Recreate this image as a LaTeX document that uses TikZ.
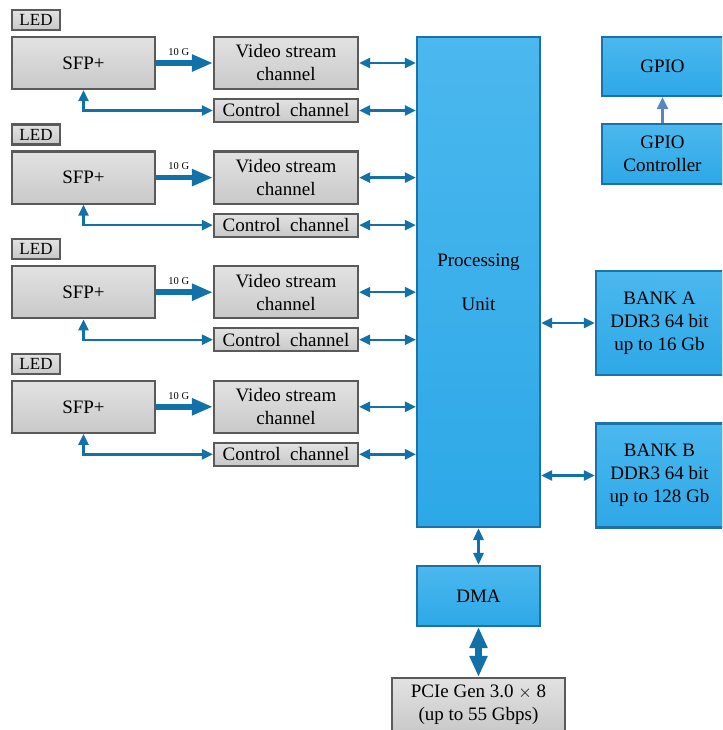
\documentclass[tikz,border=0pt]{standalone}
\usepackage{fontspec}
\setmainfont{Liberation Serif}
\usetikzlibrary{arrows.meta}
\definecolor{graytop}{HTML}{E2E2E2}
\definecolor{graybot}{HTML}{C9C9C9}
\definecolor{grayedge}{HTML}{5A5A5A}
\definecolor{bluetop}{HTML}{4BB8EE}
\definecolor{bluebot}{HTML}{2DA8E7}
\definecolor{blueedge}{HTML}{1A72A8}
\definecolor{wire}{HTML}{1271A8}
\definecolor{gpiowire}{HTML}{5A86BF}

\begin{document}
\begin{tikzpicture}[x=1pt,y=-1pt,
  greybox/.style={draw=grayedge,line width=2.2pt,top color=graytop,bottom color=graybot,
    inner sep=0pt,align=center,font=\fontsize{19}{23}\selectfont},
  bluebox/.style={draw=blueedge,line width=2.2pt,top color=bluetop,bottom color=bluebot,
    inner sep=0pt,align=center,font=\fontsize{19}{23}\selectfont},
  link/.style={wire,line width=2.4pt,{Triangle[length=11pt,width=10pt]}-{Triangle[length=11pt,width=10pt]}},
  bus/.style={wire,line width=5.5pt,-{Triangle[length=21pt,width=16pt]}}]
  \useasboundingbox (0,0) rectangle (722,730);
  \clip (0,0) rectangle (722,730);

  % core
  \node[bluebox,minimum width=123,minimum height=490] (pu) at (478.5,282) {Processing\\[21pt]Unit};
  \node[bluebox,minimum width=123,minimum height=60] (dma) at (478.5,596) {DMA};
  \node[greybox,minimum width=173,minimum height=54] (pcie) at (478.5,705)
    {PCIe Gen 3.0 $\times$ 8\\(up to 55 Gbps)};

  % right side
  \node[bluebox,minimum width=121,minimum height=59] (gpio) at (662.5,66.5) {GPIO};
  \node[bluebox,minimum width=121,minimum height=60] (gpioctl) at (662.5,154) {GPIO\\Controller};
  \node[bluebox,minimum width=127,minimum height=104] (banka) at (659.5,323)
    {BANK A\\DDR3 64 bit\\up to 16 Gb};
  \node[bluebox,minimum width=127,minimum height=104] (bankb) at (659.5,475.5)
    {BANK B\\DDR3 64 bit\\up to 128 Gb};

  % four channels
  \foreach \i in {0,...,3} {
    \pgfmathsetmacro{\o}{114.6*\i}
    \node[greybox,minimum width=48,minimum height=20,font=\fontsize{17}{20}\selectfont] (led\i) at (36,20+\o) {LED};
    \node[greybox,minimum width=143,minimum height=52] (sfp\i) at (83.5,63+\o) {SFP+};
    \node[greybox,minimum width=144,minimum height=52] (video\i) at (286,63+\o) {Video stream\\channel};
    \node[greybox,minimum width=144,minimum height=23] (ctrl\i) at (286,110.5+\o) {Control\ \ channel};
    \draw[bus] (sfp\i) -- node[pos=0.4,above=1.5pt,black,font=\fontsize{10.5}{12}\selectfont] {10 G} (video\i);
    \draw[link] (sfp\i.south) |- (ctrl\i.west);
    \draw[link] (video\i) -- (video\i -| pu.west);
    \draw[link] (ctrl\i) -- (ctrl\i -| pu.west);
  }

  \draw[link] (pu.east |- banka) -- (banka.west);
  \draw[link] (pu.east |- bankb) -- (bankb.west);
  \draw[gpiowire,line width=2.6pt,-{Triangle[length=12pt,width=11pt]}] (gpioctl) -- (gpio);
  \draw[wire,line width=3pt,{Triangle[length=12pt,width=10pt]}-{Triangle[length=12pt,width=10pt]}] (pu) -- (dma);
  \draw[wire,line width=6.5pt,{Triangle[length=21pt,width=17pt]}-{Triangle[length=21pt,width=17pt]}] (dma) -- (pcie);
\end{tikzpicture}
\end{document}
